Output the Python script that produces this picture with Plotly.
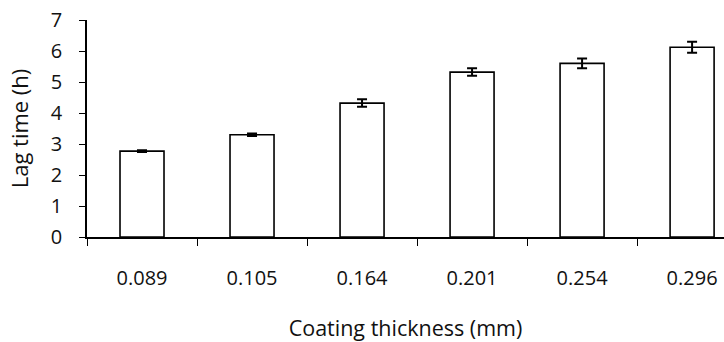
import plotly.graph_objects as go

categories = ["0.089", "0.105", "0.164", "0.201", "0.254", "0.296"]
lag_time = [2.77, 3.30, 4.32, 5.32, 5.60, 6.12]
errors = [0.03, 0.04, 0.12, 0.12, 0.16, 0.18]
y_ticks = [0, 1, 2, 3, 4, 5, 6, 7]

FONT = "Open Sans"

fig = go.Figure()
fig.add_trace(go.Bar(
    x=categories, y=lag_time, width=0.4,
    marker=dict(color="white", line=dict(color="black", width=1.6)),
    error_y=dict(type="data", array=errors, visible=True, color="black", thickness=2, width=5),
))

fig.update_layout(
    width=724, height=342,
    margin=dict(l=87, r=0, t=20, b=105),
    plot_bgcolor="white", paper_bgcolor="white",
    showlegend=False,
    font=dict(family=FONT, color="#111111", size=20),
)
fig.update_xaxes(
    type="category", range=[-0.5, 5.29], automargin=False,
    showline=True, linecolor="black", linewidth=1.5,
    ticks="outside", tickson="boundaries", ticklen=7, tickcolor="black", tickwidth=1.2,
    ticklabelstandoff=22,
    tickfont=dict(family=FONT, size=20),
    title=dict(text="Coating thickness (mm)", font=dict(family=FONT, size=21.5), standoff=44),
    showgrid=False,
)
fig.update_yaxes(
    range=[0, 7], tickvals=y_ticks, automargin=False,
    showline=True, linecolor="black", linewidth=1.5,
    ticks="outside", ticklen=6, tickcolor="black", tickwidth=1.2,
    ticklabelstandoff=13,
    tickfont=dict(family=FONT, size=20),
    title=dict(text="Lag time (h)", font=dict(family=FONT, size=22), standoff=16),
    showgrid=False, zeroline=False,
)

fig.write_html(
    "out.html",
    config={"displayModeBar": False},
    post_script="document.body.style.margin='0';document.body.style.padding='0';",
)
